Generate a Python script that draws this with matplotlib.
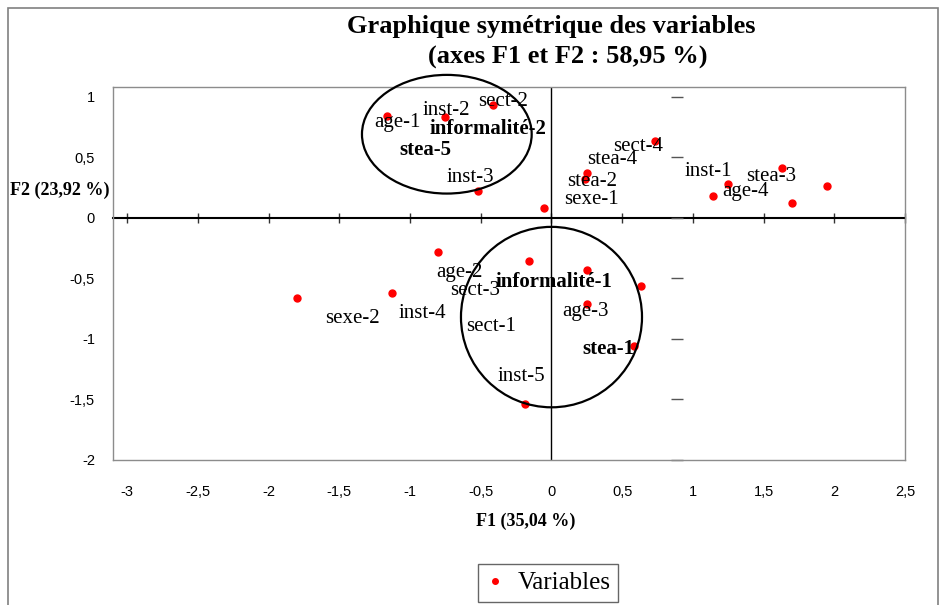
import matplotlib
matplotlib.use('Agg')
import matplotlib.pyplot as plt
from matplotlib.patches import Ellipse, Rectangle
from matplotlib.ticker import MultipleLocator, FuncFormatter

# coordonnees des modalites
names = ['age-1', 'inst-2', 'sect-2', 'inst-3', 'sexe-1', 'stea-4', 'stea-2',
         'sect-4', 'inst-1', 'age-4', 'stea-3', 'stea-5', 'informalité-2',
         'sexe-2', 'inst-4', 'age-2', 'sect-3', 'informalité-1', 'sect-1',
         'age-3', 'stea-1', 'inst-5']
f1 = [-1.16, -0.75, -0.41, -0.52, -0.05, 0.25, 0.24, 0.73, 1.14, 1.25, 1.63,
      1.70, 1.95, -1.80, -1.13, -0.80, -0.16, 0.25, 0.63, 0.25, 0.58, -0.19]
f2 = [0.84, 0.83, 0.93, 0.22, 0.08, 0.37, 0.32, 0.63, 0.18, 0.28, 0.41,
      0.12, 0.26, -0.66, -0.62, -0.28, -0.36, -0.43, -0.56, -0.71, -1.06, -1.54]
bold_names = ['informalité-1', 'informalité-2', 'stea-1', 'stea-5']

title1 = 'Graphique symétrique des variables'
title2 = '(axes F1 et F2 : 58,95 %)'
xlabel = 'F1 (35,04 %)'
ylabel = 'F2 (23,92 %)'

# ou les etiquettes ont ete posees (centre du texte, unites du graphique)
label_pos = {
    'age-1': (-1.09, 0.79), 'inst-2': (-0.74, 0.89), 'sect-2': (-0.34, 0.96),
    'informalité-2': (-0.45, 0.73), 'stea-5': (-0.89, 0.56), 'inst-3': (-0.57, 0.33),
    'sexe-1': (0.28, 0.15), 'stea-2': (0.29, 0.30), 'stea-4': (0.43, 0.48),
    'sect-4': (0.61, 0.59), 'inst-1': (1.11, 0.38), 'age-4': (1.37, 0.22),
    'stea-3': (1.55, 0.34), 'age-2': (-0.65, -0.45), 'sect-3': (-0.54, -0.60),
    'informalité-1': (0.02, -0.53), 'sexe-2': (-1.41, -0.83), 'inst-4': (-0.91, -0.79),
    'sect-1': (-0.43, -0.90), 'age-3': (0.24, -0.77), 'stea-1': (0.40, -1.08),
    'inst-5': (-0.21, -1.31),
}

serif = 'Liberation Serif'
sans = 'Liberation Sans'

def fr(v, pos):
    v = round(v, 2) + 0.0
    return ('%g' % v).replace('.', ',')

fig = plt.figure(figsize=(9.42, 6.05), dpi=100)
fig.add_artist(Rectangle((0.0085, -0.05), 0.9875, 1.037, transform=fig.transFigure,
                         fill=False, edgecolor='#808080', lw=1.2))

ax = fig.add_axes([0.12, 0.2397, 0.8408, 0.6165])
ax.set_xlim(-3.1, 2.5)
ax.set_ylim(-2, 1.08)
for s in ax.spines.values():
    s.set_color('#8c8c8c')
    s.set_linewidth(1)

ax.xaxis.set_major_locator(MultipleLocator(0.5))
ax.yaxis.set_major_locator(MultipleLocator(0.5))
ax.xaxis.set_major_formatter(FuncFormatter(fr))
ax.yaxis.set_major_formatter(FuncFormatter(fr))
ax.tick_params(axis='x', length=0, pad=18)
ax.tick_params(axis='y', length=0, pad=13)
for t in ax.get_xticklabels() + ax.get_yticklabels():
    t.set_fontfamily(sans)
    t.set_fontsize(10.5)

# axes passant par l'origine
ax.axvline(0, color='black', lw=1, zorder=1)
sec = ax.secondary_xaxis(0, transform=ax.transData)
sec.xaxis.set_major_locator(MultipleLocator(0.5))
for s in sec.spines.values():
    s.set_visible(False)
sec.spines['bottom'].set_visible(True)
sec.spines['bottom'].set_color('black')
sec.spines['bottom'].set_linewidth(1.5)
sec.tick_params(direction='inout', length=7, width=1, color='#333333',
                labelbottom=False, labeltop=False)

# petits traits de l'axe vertical d'Excel
secy = ax.secondary_yaxis(0.888, transform=ax.transData)
secy.yaxis.set_major_locator(MultipleLocator(0.5))
for s in secy.spines.values():
    s.set_visible(False)
secy.tick_params(direction='inout', length=8, width=1, color='#555555',
                 labelleft=False, labelright=False)

pts, = ax.plot(f1, f2, 'o', color='red', ms=5, mec='red', ls='none', label='Variables', zorder=3)

for n in names:
    lx, ly = label_pos[n]
    ax.text(lx, ly, n, ha='center', va='center', fontsize=15, family=serif,
            fontweight='bold' if n in bold_names else 'normal', zorder=4)

ax.add_patch(Ellipse((-0.74, 0.69), 1.20, 0.98, fill=False, edgecolor='black', lw=1.6, clip_on=False, zorder=5))
ax.add_patch(Ellipse((0.0, -0.82), 1.28, 1.49, fill=False, edgecolor='black', lw=1.6, clip_on=False, zorder=5))

fig.text(551 / 942, 1 - 27 / 605, title1, ha='center', va='center', fontsize=19,
         fontweight='bold', family=serif)
fig.text(568 / 942, 1 - 57 / 605, title2, ha='center', va='center', fontsize=19,
         fontweight='bold', family=serif)
fig.text(526 / 942, 1 - 521 / 605, xlabel, ha='center', va='center', fontsize=13,
         fontweight='bold', family=serif)
fig.text(110 / 942, 1 - 190 / 605, ylabel, ha='right', va='center', fontsize=13,
         fontweight='bold', family=serif)

leg = fig.legend(handles=[pts], loc='center', bbox_to_anchor=(548 / 942, 1 - 583 / 605),
                 prop={'family': serif, 'size': 18}, frameon=True, fancybox=False,
                 markerscale=0.8, handlelength=0.8, handletextpad=0.5, borderpad=0.3)
leg.get_frame().set_edgecolor('#404040')
leg.get_frame().set_linewidth(1)

plt.savefig('out.png', dpi=100)
plt.close()
